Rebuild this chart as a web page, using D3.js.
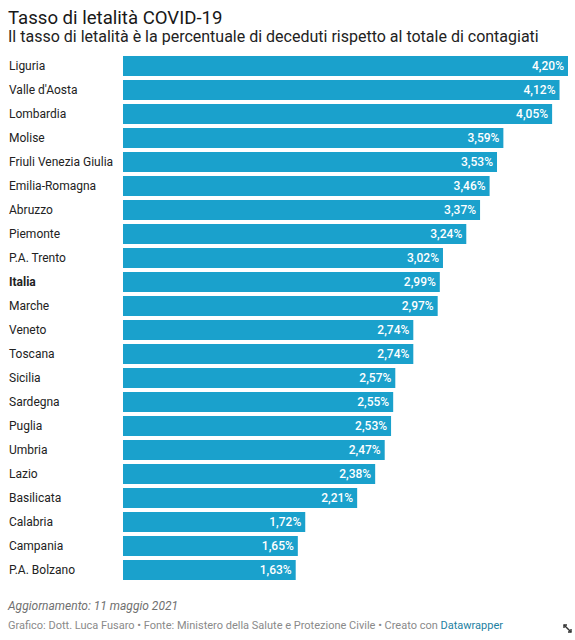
<!DOCTYPE html>
<html>
<head>
<meta charset="utf-8">
<script src="https://cdn.jsdelivr.net/npm/d3@7"></script>
<style>
  body { margin: 0; background: #fff; font-family: Roboto, "Noto Sans", sans-serif; }
  svg text { font-family: Roboto, "Noto Sans", sans-serif; }
</style>
</head>
<body>
<svg id="chart"></svg>
<script>
// regions, ordered as in the chart
const regions = ["Liguria", "Valle d'Aosta", "Lombardia", "Molise", "Friuli Venezia Giulia",
  "Emilia-Romagna", "Abruzzo", "Piemonte", "P.A. Trento", "Italia", "Marche", "Veneto",
  "Toscana", "Sicilia", "Sardegna", "Puglia", "Umbria", "Lazio", "Basilicata", "Calabria",
  "Campania", "P.A. Bolzano"];
// lethality rate (%)
const rates = [4.20, 4.12, 4.05, 3.59, 3.53, 3.46, 3.37, 3.24, 3.02, 2.99, 2.97, 2.74,
  2.74, 2.57, 2.55, 2.53, 2.47, 2.38, 2.21, 1.72, 1.65, 1.63];

const data = regions.map((r, i) => ({ region: r, rate: rates[i] }));

const width = 575, height = 640;
const margin = { top: 54, left: 123, right: 7 };

const svg = d3.select('#chart')
  .attr('width', width)
  .attr('height', height);

// titles
svg.append('text')
  .attr('x', 8).attr('y', 24)
  .attr('font-size', 18.6)
  .attr('fill', '#181818')
  .text('Tasso di letalità COVID-19');

svg.append('text')
  .attr('x', 8).attr('y', 42)
  .attr('font-size', 16)
  .attr('fill', '#222')
  .text('Il tasso di letalità è la percentuale di deceduti rispetto al totale di contagiati');

const chart = svg.append('g')
  .attr('transform', `translate(${margin.left}, ${margin.top})`);

const xScale = d3.scaleLinear()
  .domain([0, d3.max(rates)])
  .range([0, width - margin.left - margin.right]);

const yScale = d3.scaleBand()
  .domain(regions)
  .range([0, regions.length * 24])
  .paddingInner(4 / 24)
  .paddingOuter(2 / 24);

const fmt = d3.format('.2f');

chart.selectAll('.bar')
  .data(data)
  .join('rect')
  .attr('class', 'bar')
  .attr('x', 0)
  .attr('y', d => yScale(d.region))
  .attr('width', d => xScale(d.rate))
  .attr('height', yScale.bandwidth())
  .attr('fill', '#1aa1cc');

// value labels inside bars
chart.selectAll('.value')
  .data(data)
  .join('text')
  .attr('class', 'value')
  .attr('x', d => xScale(d.rate) - 4)
  .attr('y', d => yScale(d.region) + yScale.bandwidth() / 2)
  .attr('dy', '0.35em')
  .attr('text-anchor', 'end')
  .attr('font-size', 12)
  .attr('font-weight', 500)
  .attr('fill', '#fff')
  .text(d => fmt(d.rate).replace('.', ',') + '%');

// region labels on the left
svg.selectAll('.label')
  .data(data)
  .join('text')
  .attr('class', 'label')
  .attr('x', 9)
  .attr('y', d => margin.top + yScale(d.region) + yScale.bandwidth() / 2)
  .attr('dy', '0.35em')
  .attr('font-size', 12)
  .attr('font-weight', d => d.region === 'Italia' ? 700 : 400)
  .attr('fill', '#222')
  .text(d => d.region);

// footer
svg.append('text')
  .attr('x', 8).attr('y', 610)
  .attr('font-size', 12)
  .attr('font-style', 'italic')
  .attr('fill', '#707070')
  .text('Aggiornamento: 11 maggio 2021');

const credits = svg.append('text')
  .attr('x', 8).attr('y', 629)
  .attr('font-size', 11)
  .attr('fill', '#8a8a8a');
credits.append('tspan')
  .text('Grafico: Dott. Luca Fusaro • Fonte: Ministero della Salute e Protezione Civile • Creato con ');
credits.append('tspan')
  .attr('fill', '#1d81a2')
  .text('Datawrapper');

// small resize icon bottom right
const icon = svg.append('g')
  .attr('transform', 'translate(563, 624)')
  .attr('stroke', '#333')
  .attr('stroke-width', 1.4)
  .attr('fill', 'none');
icon.append('line').attr('x1', 1).attr('y1', 1).attr('x2', 8).attr('y2', 8);
icon.append('path').attr('d', 'M1 4 L1 1 L4 1');
icon.append('path').attr('d', 'M8 5 L8 8 L5 8');
</script>
</body>
</html>
